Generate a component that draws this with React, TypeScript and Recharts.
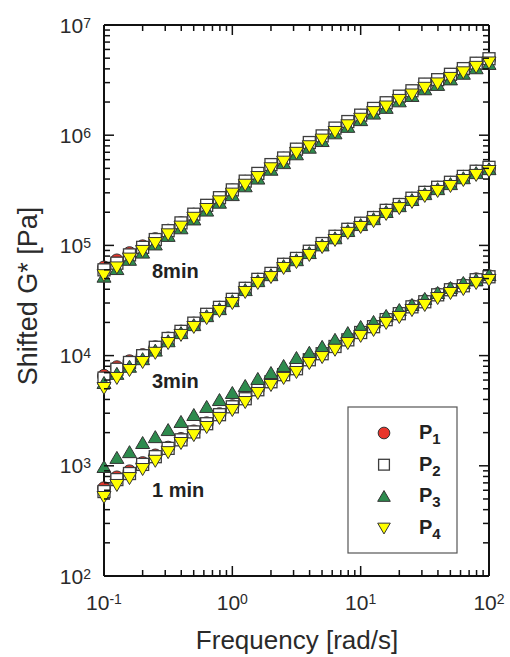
import React from 'react';
import { ScatterChart, Scatter, XAxis, YAxis, ReferenceLine } from 'recharts';

// angular frequency, rad/s (10 points per decade)
const freq = [
  0.1, 0.126, 0.158, 0.2, 0.251, 0.316, 0.398, 0.501, 0.631, 0.794,
  1, 1.26, 1.58, 2, 2.51, 3.16, 3.98, 5.01, 6.31, 7.94,
  10, 12.6, 15.8, 20, 25.1, 31.6, 39.8, 50.1, 63.1, 79.4, 100,
];

// shifted G* [Pa], 1 min
const p1_1min = [625, 784, 890, 1057, 1240, 1460, 1750, 2050, 2430, 2940, 3470, 4090, 4950, 5840, 6770, 7670, 9260, 10500, 12200, 14000, 16300, 18500, 21400, 24200, 28000, 31100, 36000, 40000, 43400, 49200, 52400];
const p2_1min = [584, 750, 851, 1030, 1210, 1440, 1720, 2030, 2410, 2910, 3430, 4060, 4900, 5790, 6710, 7600, 9170, 10400, 12100, 13900, 16200, 18300, 21200, 24000, 27700, 30800, 35600, 39600, 43000, 48800, 51900];
const p3_1min = [975, 1180, 1330, 1610, 1820, 2110, 2500, 2890, 3420, 3950, 4580, 5300, 6140, 6950, 8050, 9510, 10600, 12000, 13900, 16000, 18200, 20200, 22900, 25900, 28800, 32700, 37000, 41000, 45600, 48500, 53800];
const p4_1min = [521, 670, 774, 935, 1110, 1330, 1610, 1900, 2250, 2720, 3210, 3790, 4580, 5410, 6270, 7100, 8570, 9700, 11300, 13000, 15100, 17100, 19800, 22400, 25900, 28800, 33300, 37000, 40200, 45600, 48500];

// 3 min
const p1_3min = [6550, 7840, 8880, 10100, 11900, 14300, 16500, 19500, 23400, 27200, 32100, 40400, 48800, 55200, 66800, 75500, 87600, 103000, 120000, 139000, 157000, 178000, 207000, 233000, 265000, 301000, 334000, 370000, 419000, 467000, 506000];
const p2_3min = [6250, 7520, 8660, 9980, 11900, 14300, 16600, 19700, 23700, 27400, 32400, 40800, 49200, 55700, 67400, 76200, 88500, 104000, 121000, 140000, 159000, 179000, 208000, 235000, 268000, 303000, 337000, 374000, 423000, 471000, 511000];
const p3_3min = [5640, 6830, 7920, 9280, 11100, 13500, 16000, 18900, 22800, 26400, 31200, 39300, 47400, 53700, 64900, 73400, 85200, 100000, 116000, 135000, 153000, 173000, 201000, 227000, 258000, 292000, 324000, 360000, 407000, 453000, 492000];
const p4_3min = [5080, 6270, 7400, 8750, 10600, 13000, 15400, 18200, 21900, 25400, 30000, 37800, 45600, 51600, 62400, 70600, 81900, 96600, 112000, 130000, 147000, 166000, 193000, 218000, 248000, 281000, 312000, 346000, 392000, 436000, 473000];

// 8 min
const p1_8min = [63000, 73000, 85000, 98000, 114000, 136000, 159000, 190000, 228000, 268000, 315000, 378000, 444000, 533000, 612000, 736000, 845000, 970000, 1140000, 1310000, 1500000, 1720000, 1940000, 2220000, 2490000, 2860000, 3140000, 3520000, 3960000, 4440000, 4860000];
const p2_8min = [60000, 69000, 82000, 96000, 113000, 136000, 160000, 192000, 231000, 271000, 319000, 383000, 450000, 541000, 621000, 747000, 858000, 985000, 1160000, 1330000, 1520000, 1750000, 1970000, 2260000, 2530000, 2910000, 3190000, 3570000, 4020000, 4500000, 4940000];
const p3_8min = [52000, 61000, 74000, 86000, 102000, 122000, 143000, 172000, 207000, 244000, 286000, 344000, 404000, 486000, 558000, 671000, 770000, 885000, 1040000, 1190000, 1370000, 1570000, 1770000, 2030000, 2270000, 2610000, 2860000, 3210000, 3610000, 4050000, 4430000];
const p4_8min = [53700, 63100, 75900, 89100, 105000, 126000, 148000, 178000, 214000, 251000, 295000, 355000, 417000, 501000, 575000, 692000, 794000, 912000, 1070000, 1230000, 1410000, 1620000, 1820000, 2090000, 2340000, 2690000, 2950000, 3310000, 3720000, 4170000, 4570000];

const xDecades = [0.1, 1, 10, 100];
const yDecades = [1e2, 1e3, 1e4, 1e5, 1e6, 1e7];
const curveLabels = ['8min', '3min', '1 min'];
const seriesNames = ['P1', 'P2', 'P3', 'P4'];

const FONT = '"Liberation Sans", Arial, Helvetica, sans-serif';
const W = 510;
const H = 657;
const M = { top: 25, right: 21, bottom: 21, left: 44 };
const PLOT_W = 385;
const PLOT_H = 551;

const minors = (decades: number[]) => {
  const out: number[] = [];
  decades.forEach((d, i) => {
    out.push(d);
    if (i < decades.length - 1) for (let m = 2; m <= 9; m++) out.push(+(m * d).toPrecision(3));
  });
  return out;
};
const xTicks = minors(xDecades);
const yTicks = minors(yDecades);

const pts = (...sets: number[][]) =>
  sets.flatMap((vals) => freq.map((x, i) => ({ x, y: vals[i] })));

const p1 = pts(p1_1min, p1_3min, p1_8min);
const p2 = pts(p2_1min, p2_3min, p2_8min);
const p3 = pts(p3_1min, p3_3min, p3_8min);
const p4 = pts(p4_1min, p4_3min, p4_8min);

const isMajor = (v: number) => {
  const e = Math.log10(v);
  return Math.abs(e - Math.round(e)) < 1e-6;
};

function Marker({ kind, cx, cy, s = 1 }: { kind: string; cx: number; cy: number; s?: number }) {
  const stroke = '#333';
  if (kind === 'circle')
    return <circle cx={cx} cy={cy} r={6.5 * s} fill="#e8352b" stroke={stroke} strokeWidth={1} />;
  if (kind === 'square')
    return <rect x={cx - 6 * s} y={cy - 6 * s} width={12 * s} height={12 * s} fill="#fff" stroke="#3d3d3d" strokeWidth={1.3} />;
  if (kind === 'up')
    return (
      <polygon
        points={`${cx - 7 * s},${cy + 5.5 * s} ${cx + 7 * s},${cy + 5.5 * s} ${cx},${cy - 6.5 * s}`}
        fill="#2e8b4e" stroke={stroke} strokeWidth={1}
      />
    );
  return (
    <polygon
      points={`${cx - 7 * s},${cy - 5.5 * s} ${cx + 7 * s},${cy - 5.5 * s} ${cx},${cy + 6.5 * s}`}
      fill="#ffff00" stroke={stroke} strokeWidth={1}
    />
  );
}

// eslint-disable-next-line @typescript-eslint/no-explicit-any
function YTick({ x, y, payload }: any) {
  const v = payload.value as number;
  const major = isMajor(v);
  const len = major ? 10 : 6;
  return (
    <g>
      <line x1={x} x2={x + len} y1={y} y2={y} stroke="#111" strokeWidth={1.5} />
      <line x1={x + PLOT_W} x2={x + PLOT_W - len} y1={y} y2={y} stroke="#111" strokeWidth={1.5} />
      {major && (
        <text x={x - 13} y={y + 7.5} textAnchor="end" fontFamily={FONT} fontSize={21} fill="#2a2a2a">
          10<tspan dy={-5} fontSize={14}>{Math.round(Math.log10(v))}</tspan>
        </text>
      )}
    </g>
  );
}

// eslint-disable-next-line @typescript-eslint/no-explicit-any
function XTick({ x, y, payload }: any) {
  const v = payload.value as number;
  const major = isMajor(v);
  const len = major ? 10 : 6;
  return (
    <g>
      <line x1={x} x2={x} y1={y} y2={y - len} stroke="#111" strokeWidth={1.5} />
      <line x1={x} x2={x} y1={y - PLOT_H} y2={y - PLOT_H + len} stroke="#111" strokeWidth={1.5} />
      {major && (
        <text x={x} y={y + 34} textAnchor="middle" fontFamily={FONT} fontSize={21} fill="#2a2a2a">
          10<tspan dy={-6} fontSize={14}>{Math.round(Math.log10(v))}</tspan>
        </text>
      )}
    </g>
  );
}

const kinds = ['circle', 'square', 'up', 'down'];

export default function App() {
  return (
    <div style={{ position: 'absolute', left: 0, top: 0, width: W, height: H, background: '#fff' }}>
      <ScatterChart width={W} height={H} margin={M}>
        <XAxis
          dataKey="x" type="number" scale="log" domain={[0.1, 100]} ticks={xTicks} interval={0}
          height={60} tickSize={0} tickMargin={0} tickLine={false}
          axisLine={{ stroke: '#111', strokeWidth: 2 }} tick={<XTick />}
        />
        <YAxis
          dataKey="y" type="number" scale="log" domain={[1e2, 1e7]} ticks={yTicks} interval={0}
          width={60} tickSize={0} tickMargin={0} tickLine={false}
          axisLine={{ stroke: '#111', strokeWidth: 2 }} tick={<YTick />}
        />
        <ReferenceLine y={1e7} stroke="#111" strokeWidth={2} />
        <ReferenceLine x={100} stroke="#111" strokeWidth={2} />
        {[p1, p2, p3, p4].map((d, i) => (
          <Scatter
            key={seriesNames[i]} name={seriesNames[i]} data={d} isAnimationActive={false}
            // eslint-disable-next-line @typescript-eslint/no-explicit-any
            shape={(props: any) => <Marker kind={kinds[i]} cx={props.cx} cy={props.cy} />}
          />
        ))}
      </ScatterChart>

      <svg width={W} height={H} style={{ position: 'absolute', left: 0, top: 0, pointerEvents: 'none' }}>
        <text x={297} y={649} textAnchor="middle" fontFamily={FONT} fontSize={26} fill="#2a2a2a">
          Frequency [rad/s]
        </text>
        <text
          x={0} y={0} transform="translate(37 296) rotate(-90)" textAnchor="middle"
          fontFamily={FONT} fontSize={27} fill="#2a2a2a"
        >
          Shifted G* [Pa]
        </text>

        {curveLabels.map((t, i) => (
          <text key={t} x={152} y={[278, 388, 497][i]} fontFamily={FONT} fontSize={20} fontWeight="bold" fill="#222">
            {t}
          </text>
        ))}

        <rect x={348} y={407} width={109} height={146} fill="#fff" stroke="#555" strokeWidth={1.2} />
        {seriesNames.map((n, i) => {
          const cy = 433 + i * 31.7;
          return (
            <g key={n}>
              <Marker kind={kinds[i]} cx={384} cy={cy} s={0.9} />
              <text x={419} y={cy + 6} fontFamily={FONT} fontSize={20} fontWeight="bold" fill="#222">
                {n.charAt(0)}
                <tspan dy={5} fontSize={15}>{n.slice(1)}</tspan>
              </text>
            </g>
          );
        })}
      </svg>
    </div>
  );
}
